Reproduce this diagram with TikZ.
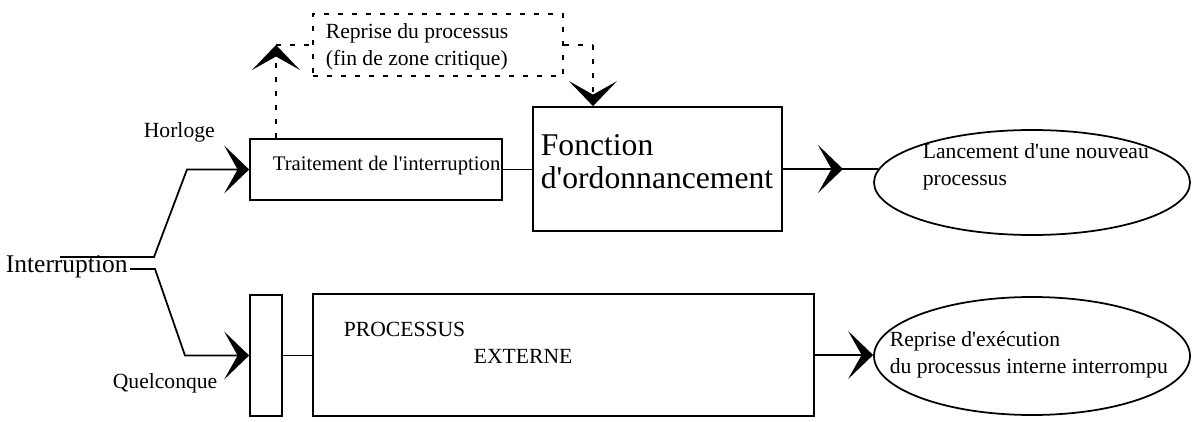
\documentclass[tikz,border=0pt]{standalone}
\usepackage{fontspec}
\setmainfont{Liberation Serif}[Ligatures=TeXOff]
\usetikzlibrary{arrows.meta,shapes.geometric}

\begin{document}
\begin{tikzpicture}[line width=1pt,
  >={Stealth[length=5mm,width=9.6mm,inset=2.7mm]},
  box/.style={draw, rectangle, inner sep=0pt},
  oval/.style={draw, ellipse, inner sep=0pt},
  lbl/.style={inner sep=0pt, anchor=base west, align=left, font=\fontsize{12.3}{15}\selectfont},
  dsh/.style={dash pattern=on 1mm off 1.8mm}]
\useasboundingbox (0,0) rectangle (23.84,8.42);

% boites
\node[box, minimum width=5.04cm, minimum height=1.22cm] (trait) at (7.52,5.03) {};
\node[box, minimum width=4.98cm, minimum height=2.48cm] (fonc) at (13.15,5.04) {};
\node[box, minimum width=0.64cm, minimum height=2.42cm] (small) at (5.32,1.31) {};
\node[box, minimum width=10.02cm, minimum height=2.44cm] (proc) at (11.27,1.32) {};
\node[box, dsh, minimum width=5cm, minimum height=1.24cm] (rep) at (8.76,7.52) {};
\node[oval, minimum width=6.32cm, minimum height=2.1cm] (ell1) at (20.64,4.77) {};
\node[oval, minimum width=6.32cm, minimum height=2.36cm] (ell2) at (20.64,1.30) {};

% textes (base = derniere ligne)
\node[lbl, font=\fontsize{14.5}{15}\selectfont] (lintr) at (0.10,2.98) {Interruption};
\node[lbl] (lhorl) at (2.86,5.68) {Horloge};
\node[lbl] (lquel) at (2.24,0.66) {Quelconque};
\node[lbl, font=\fontsize{11.8}{15}\selectfont] (ltrait) at (5.44,5.02) {Traitement de l'interruption};
\node[lbl] (lrep) at (6.50,7.12) {Reprise du processus\\(fin de zone critique)};
\node[lbl, font=\fontsize{18}{18.5}\selectfont] (lfonc) at (10.80,4.66) {Fonction\\d'ordonnancement};
\node[lbl] (llanc) at (18.44,4.72) {Lancement d'une nouveau\\processus};
\node[lbl] (lproc) at (6.86,1.16) {PROCESSUS\\\hspace*{2.6cm}EXTERNE};
\node[lbl] (lreex) at (17.78,0.96) {Reprise d'exécution\\du processus interne interrompu};

% points libres
\coordinate (intr) at (1.20,3.28);
\coordinate (split) at (2.60,3.04);
\coordinate (t1) at (16.86,5.04);
\coordinate (up) at (5.52,7.52);
\coordinate (dn) at (11.86,7.52);

% liaisons
\draw[->] (intr) -- (3.08,3.28) -- (3.74,5.03) -- (trait.west);
\draw[->] (split) -- (3.10,3.04) -- (3.70,0 |- small.west) -- (small.west);
\draw (trait.east) -- (trait.east -| fonc.west);
\draw (fonc.east) -- (ell1.175);
\draw[->] (fonc.east) -- (t1 |- fonc.east);
\draw (small.east) -- (small.east -| proc.west);
\draw[->] (proc.east) -- (proc.east -| ell2.west);

% reprise en pointilles
\draw[dsh, ->] (up |- trait.north) -- (up);
\draw[dsh] (up) -- (rep.west);
\draw[dsh] (rep.east) -- (dn);
\draw[dsh, ->] (dn) -- (dn |- fonc.north);
\end{tikzpicture}
\end{document}
